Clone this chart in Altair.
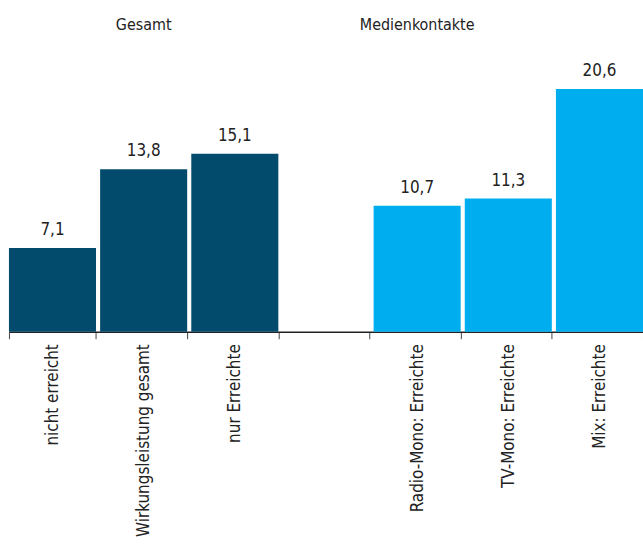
import altair as alt
import pandas as pd

categories = ["nicht erreicht", "Wirkungsleistung gesamt", "nur Erreichte",
              " ", "Radio-Mono: Erreichte", "TV-Mono: Erreichte", "Mix: Erreichte"]
bar_categories = ["nicht erreicht", "Wirkungsleistung gesamt", "nur Erreichte",
                  "Radio-Mono: Erreichte", "TV-Mono: Erreichte", "Mix: Erreichte"]
values = [7.1, 13.8, 15.1, 10.7, 11.3, 20.6]
groups = ["Gesamt", "Gesamt", "Gesamt", "Medienkontakte", "Medienkontakte", "Medienkontakte"]
group_titles = ["Gesamt", "Medienkontakte"]
group_title_pos = ["Wirkungsleistung gesamt", "Radio-Mono: Erreichte"]

FONT = "DejaVu Sans Condensed, Roboto, sans-serif"

df = pd.DataFrame({"cat": bar_categories, "value": values, "group": groups})
tdf = pd.DataFrame({"cat": group_title_pos, "title": group_titles})

xscale = alt.Scale(domain=categories, paddingInner=0.045, paddingOuter=0.0)
x = alt.X("cat:N", scale=xscale, sort=categories, title=None,
          axis=alt.Axis(labelAngle=-90, tickBand="extent", tickSize=7,
                        labelPadding=5, labelFontSize=17, labelFont=FONT,
                        labelColor="#222", domainColor="#222", domainWidth=1.5,
                        tickColor="#444", tickWidth=1, labelLimit=300))
y = alt.Y("value:Q", scale=alt.Scale(domain=[0, 28.05], nice=False), axis=None)

bars = alt.Chart(df).mark_bar().encode(
    x=x, y=y,
    color=alt.Color("group:N", scale=alt.Scale(domain=group_titles,
                                                range=["#034b6c", "#00aeef"]), legend=None),
)

labels = alt.Chart(df).transform_calculate(
    lbl="replace(format(datum.value, '.1f'), '.', ',')"
).mark_text(baseline="alphabetic", dy=-13, fontSize=17, font=FONT, color="#222").encode(
    x=alt.X("cat:N", scale=xscale, sort=categories), y=y, text="lbl:N"
)

titles = alt.Chart(tdf).mark_text(baseline="middle", fontSize=16, font=FONT, color="#222").encode(
    x=alt.X("cat:N", scale=xscale, sort=categories), y=alt.value(24), text="title:N"
)

chart = alt.layer(bars, labels, titles).properties(
    width=637, height=332,
    autosize=alt.AutoSizeParams(type="none"),
    padding={"left": 9, "top": 0, "right": 0, "bottom": 215},
).configure_view(stroke=None)

chart.save("out.html", embed_options={"renderer": "svg", "actions": False})
